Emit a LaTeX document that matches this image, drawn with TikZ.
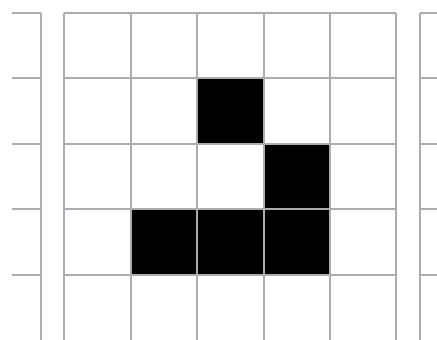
\documentclass[tikz,border=0pt]{standalone}
\definecolor{gridgray}{RGB}{172,172,178}
\begin{document}
\begin{tikzpicture}[x=1pt,y=-1pt,
  gridline/.style={draw=gridgray,line width=2pt},
  alive/.style={fill=black}]
\useasboundingbox[fill=white] (0,0) rectangle (437,340);
% live cells
\fill[alive] (197,78) rectangle (263.5,143.5);
\fill[alive] (263.5,143.5) rectangle (330,209);
\fill[alive] (130.5,209) rectangle (330,275);
% main grid
\foreach \x in {64,130.5,197,263.5,330,396}
  \draw[gridline] (\x,13) -- (\x,341);
\foreach \y in {13,78,143.5,209,275}
  \draw[gridline] (64,\y) -- (396,\y);
% left neighbour panel
\draw[gridline] (41,13) -- (41,341);
\foreach \y in {13,78,143.5,209,275}
  \draw[gridline] (12,\y) -- (41,\y);
% right neighbour panel
\draw[gridline] (420,13) -- (420,341);
\foreach \y in {13,78,143.5,209,275}
  \draw[gridline] (420,\y) -- (438,\y);
\end{tikzpicture}
\end{document}
